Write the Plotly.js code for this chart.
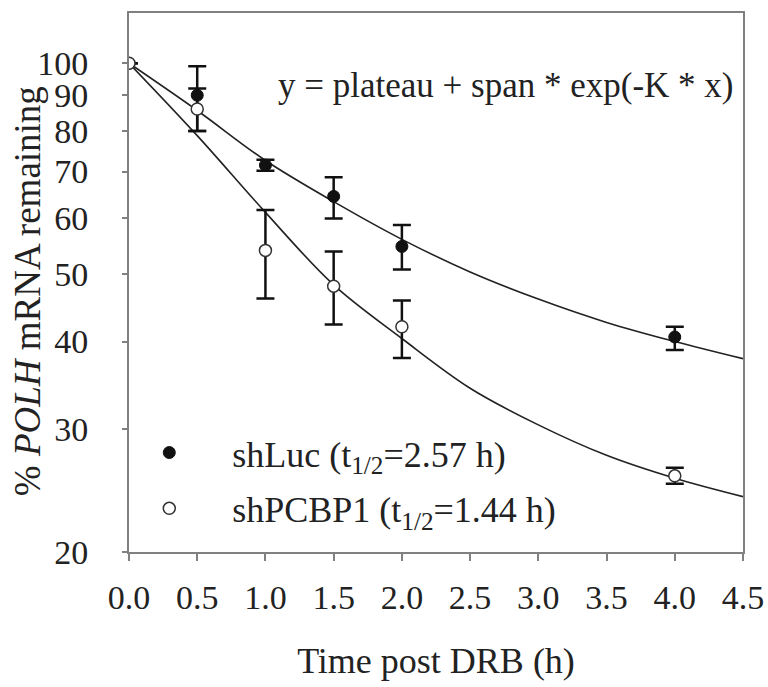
<!DOCTYPE html>
<html>
<head>
<meta charset="utf-8">
<script src="https://cdn.plot.ly/plotly-3.0.1.min.js"></script>
<style>
  html, body { margin: 0; padding: 0; background: #ffffff; }
  #chart { width: 768px; height: 687px; }
</style>
</head>
<body>
<div id="chart"></div>
<script>
// Measured time points (h)
const timeH = [0, 0.5, 1.0, 1.5, 2.0, 4.0];

// shLuc (filled circles)
const shLucPct = [100, 90, 71.5, 64.5, 54.7, 40.6];
const shLucErrPlus = [0, 9, 1.3, 4.2, 4.0, 1.4];
const shLucErrMinus = [0, 10, 1.3, 4.5, 4.0, 1.7];

// shPCBP1 (open circles)
const shPcbp1Pct = [100, 86, 54, 48, 42, 25.7];
const shPcbp1ErrPlus = [0, 6, 7.7, 5.8, 3.8, 0.7];
const shPcbp1ErrMinus = [0, 6, 7.9, 5.7, 4.1, 0.65];

// Fitted curves
const fitTime = [0, 0.5, 1.0, 1.5, 2.0, 2.5, 3.0, 3.5, 4.0, 4.5];
const shLucFit = [100, 85.6, 72.6, 63.4, 56.0, 50.3, 46.0, 42.6, 40.0, 37.8];
const shPcbp1Fit = [100, 78.8, 61.2, 48.2, 40.4, 34.3, 30.4, 27.5, 25.5, 24.0];

// Axis ticks
const xTickVals = [0, 0.5, 1.0, 1.5, 2.0, 2.5, 3.0, 3.5, 4.0, 4.5];
const xTickText = ["0.0", "0.5", "1.0", "1.5", "2.0", "2.5", "3.0", "3.5", "4.0", "4.5"];
const yTickVals = [20, 30, 40, 50, 60, 70, 80, 90, 100];
const yTickText = ["20", "30", "40", "50", "60", "70", "80", "90", "100"];

const serif = "Liberation Serif, Times New Roman, serif";

const traces = [
  {
    x: fitTime, y: shLucFit, type: "scatter", mode: "lines",
    line: { color: "#222222", width: 1.6, shape: "spline" },
    showlegend: false, hoverinfo: "skip"
  },
  {
    x: fitTime, y: shPcbp1Fit, type: "scatter", mode: "lines",
    line: { color: "#222222", width: 1.6, shape: "spline" },
    showlegend: false, hoverinfo: "skip"
  },
  {
    x: timeH, y: shLucPct, type: "scatter", mode: "markers",
    name: "shLuc (t<sub>1/2</sub>=2.57 h)",
    legendgroup: "a",
    marker: { color: "#111111", size: 12, line: { color: "#111111", width: 1 } },
    error_y: { type: "data", symmetric: false, array: shLucErrPlus, arrayminus: shLucErrMinus,
               color: "#111111", thickness: 2.5, width: 9 }
  },
  {
    x: timeH, y: shPcbp1Pct, type: "scatter", mode: "markers",
    name: "shPCBP1 (t<sub>1/2</sub>=1.44 h)",
    legendgroup: "b",
    marker: { color: "#ffffff", size: 12, line: { color: "#333333", width: 1.5 } },
    error_y: { type: "data", symmetric: false, array: shPcbp1ErrPlus, arrayminus: shPcbp1ErrMinus,
               color: "#111111", thickness: 2.5, width: 9 }
  }
];

const layout = {
  width: 768, height: 687,
  paper_bgcolor: "#ffffff", plot_bgcolor: "#ffffff",
  margin: { l: 129, r: 25, t: 13, b: 135 },
  font: { family: serif, size: 34, color: "#222222" },
  showlegend: true,
  legend: {
    x: -0.037, y: 0.24, xanchor: "left", yanchor: "top",
    bgcolor: "rgba(0,0,0,0)", borderwidth: 0,
    font: { family: serif, size: 36, color: "#222222" },
    itemwidth: 116, traceorder: "grouped", tracegroupgap: 6
  },
  xaxis: {
    range: [0, 4.5],
    tickvals: xTickVals, ticktext: xTickText,
    ticks: "outside", ticklen: 7, tickwidth: 2, tickcolor: "#808080",
    showline: true, linecolor: "#808080", linewidth: 2, mirror: true,
    showgrid: false, zeroline: false,
    ticklabelstandoff: 7,
    tickfont: { family: serif, size: 34, color: "#222222" },
    title: { text: "Time post DRB (h)", font: { family: serif, size: 36, color: "#222222" }, standoff: 33 }
  },
  yaxis: {
    type: "log",
    range: [Math.log10(20), Math.log10(118)],
    tickvals: yTickVals, ticktext: yTickText,
    ticks: "outside", ticklen: 5, tickwidth: 2, tickcolor: "#808080",
    showline: true, linecolor: "#808080", linewidth: 2, mirror: true,
    showgrid: false, zeroline: false,
    ticklabelstandoff: 27,
    tickfont: { family: serif, size: 34, color: "#222222" }
  },
  annotations: [
    {
      text: "% <i>POLH</i> mRNA remaining",
      xref: "paper", yref: "paper", x: -0.166, y: 0.484,
      xanchor: "center", yanchor: "middle", textangle: -90, showarrow: false,
      font: { family: serif, size: 37, color: "#222222" }
    },
    {
      text: "y = plateau + span * exp(-K * x)",
      xref: "paper", yref: "paper", x: 0.987, y: 0.866,
      xanchor: "right", yanchor: "middle", showarrow: false,
      font: { family: serif, size: 35, color: "#222222" }
    }
  ]
};

Plotly.newPlot("chart", traces, layout, { staticPlot: true, displayModeBar: false });
</script>
</body>
</html>
